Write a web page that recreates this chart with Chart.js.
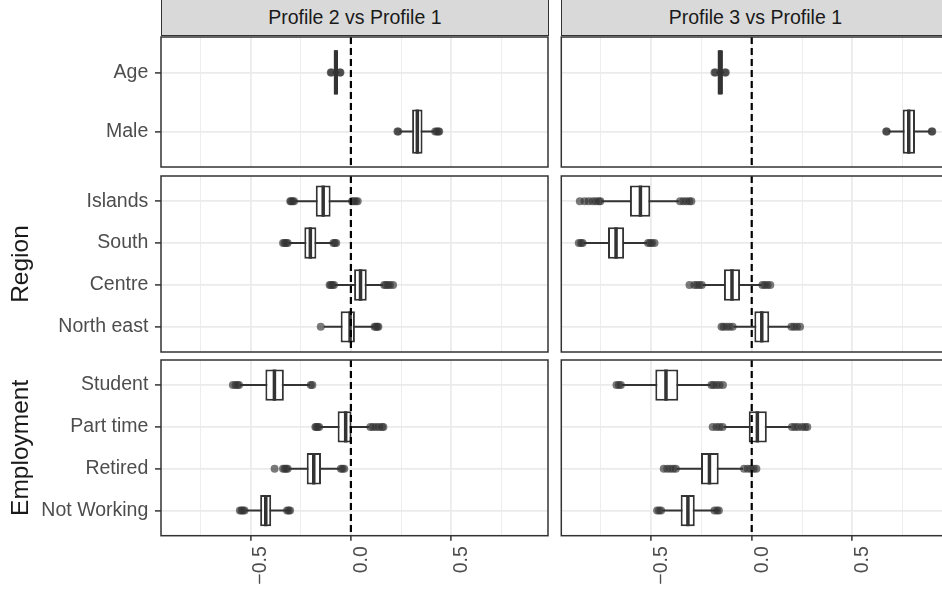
<!DOCTYPE html>
<html>
<head>
<meta charset="utf-8">
<script src="https://cdn.jsdelivr.net/npm/chart.js@4.4.1/dist/chart.umd.min.js"></script>
<style>
  html, body { margin: 0; padding: 0; background: #fff; overflow: hidden; }
  #wrap { position: relative; width: 942px; height: 592px; overflow: hidden; }
  #wrap canvas { position: absolute; }
  .strip { position: absolute; top: -2px; height: 38px; box-sizing: border-box; border: 1.3px solid #333;
    background: #d9d9d9; color: #1a1a1a; font: 19.5px "Liberation Sans", Arial, sans-serif;
    display: flex; align-items: center; justify-content: center; padding-top: 1px; }
</style>
</head>
<body>
<div id="wrap"></div>
<script>
// facets and the terms in each row group
const facets = ['Profile 2 vs Profile 1', 'Profile 3 vs Profile 1']
const groupTitles = ['', 'Region', 'Employment']
const groupTerms = [
  ['Age', 'Male'],
  ['Islands', 'South', 'Centre', 'North east'],
  ['Student', 'Part time', 'Retired', 'Not Working']
]
const xTicks = [-0.75, -0.5, -0.25, 0, 0.25, 0.5, 0.75]
const xTickLabels = ['', '\u22120.5', '', '0.0', '', '0.5', '']

// boxplot stats, one entry per term (Age .. Not Working)
const p2Low    = [-0.092, 0.242, -0.278, -0.310, -0.080, -0.135, -0.553, -0.155, -0.310, -0.525]
const p2Q1     = [-0.086, 0.305, -0.175, -0.232,  0.016, -0.051, -0.426, -0.066, -0.220, -0.452]
const p2Median = [-0.075, 0.331, -0.138, -0.202,  0.048, -0.004, -0.381, -0.026, -0.185, -0.424]
const p2Q3     = [-0.064, 0.357, -0.101, -0.172,  0.079,  0.020, -0.334,  0.003, -0.149, -0.397]
const p2High   = [-0.058, 0.415,  0.000, -0.090,  0.160,  0.112, -0.205,  0.090, -0.055, -0.300]
const p2Outliers = [
  [-0.097, -0.100, -0.055, -0.052],
  [0.232, 0.236, 0.420, 0.428, 0.436, 0.440],
  [-0.283, -0.290, -0.298, -0.302, 0.006, 0.015, 0.025, 0.034],
  [-0.315, -0.322, -0.330, -0.338, -0.087, -0.080, -0.073],
  [-0.084, -0.092, -0.100, -0.106, 0.166, 0.175, 0.185, 0.195, 0.210],
  [-0.150, 0.118, 0.125, 0.132, 0.137],
  [-0.557, -0.565, -0.575, -0.588, -0.200, -0.192],
  [-0.158, -0.165, -0.172, -0.177, 0.097, 0.110, 0.125, 0.140, 0.155, 0.162],
  [-0.315, -0.322, -0.330, -0.338, -0.380, -0.050, -0.042, -0.033],
  [-0.530, -0.538, -0.545, -0.553, -0.303, -0.310, -0.318]
]

const p3Low    = [-0.176, 0.680, -0.748, -0.835, -0.243, -0.090, -0.645, -0.140, -0.372, -0.445]
const p3Q1     = [-0.170, 0.750, -0.605, -0.714, -0.138,  0.013, -0.479, -0.015, -0.252, -0.353]
const p3Median = [-0.157, 0.780, -0.553, -0.674, -0.098,  0.050, -0.426,  0.028, -0.210, -0.317]
const p3Q3     = [-0.143, 0.811, -0.504, -0.634, -0.058,  0.087, -0.365,  0.075, -0.164, -0.283]
const p3High   = [-0.137, 0.888, -0.362, -0.520,  0.048,  0.190, -0.205,  0.195, -0.043, -0.160]
const p3Outliers = [
  [-0.180, -0.185, -0.133, -0.129],
  [0.671, 0.668, 0.894, 0.897],
  [-0.752, -0.760, -0.775, -0.790, -0.810, -0.830, -0.854, -0.356, -0.340, -0.325, -0.310, -0.300],
  [-0.840, -0.848, -0.859, -0.515, -0.505, -0.495, -0.483],
  [-0.248, -0.260, -0.272, -0.285, -0.309, 0.053, 0.065, 0.078, 0.092],
  [-0.095, -0.110, -0.125, -0.140, -0.150, 0.197, 0.210, 0.225, 0.240],
  [-0.650, -0.660, -0.672, -0.200, -0.190, -0.175, -0.160, -0.143],
  [-0.145, -0.160, -0.175, -0.194, 0.200, 0.215, 0.230, 0.250, 0.265, 0.276],
  [-0.377, -0.390, -0.405, -0.420, -0.437, -0.038, -0.020, -0.005, 0.010, 0.023],
  [-0.450, -0.460, -0.470, -0.163, -0.172, -0.185]
]

const stats = [
  { low: p2Low, q1: p2Q1, median: p2Median, q3: p2Q3, high: p2High, outliers: p2Outliers },
  { low: p3Low, q1: p3Q1, median: p3Median, q3: p3Q3, high: p3High, outliers: p3Outliers }
]

const X_MIN = -0.946, X_MAX = 0.982
const BOX = 0.75
const INK = '#333333'
const FONT = '"Liberation Sans", Arial, sans-serif'

// page layout of the facet grid
const cols = [
  { canvasLeft: 0,   width: 552, areaLeft: 161,   areaRight: 548.7 },
  { canvasLeft: 557, width: 397, areaLeft: 561.3, areaRight: 949.4 }
]
const rows = [
  { canvasTop: 33,  height: 138, areaTop: 36,    areaBottom: 168 },
  { canvasTop: 172, height: 184, areaTop: 175.7, areaBottom: 352.3 },
  { canvasTop: 356, height: 236, areaTop: 359.3, areaBottom: 535.7 }
]

const panelBorder = {
  id: 'panelBorder',
  afterDraw(chart) {
    const a = chart.chartArea, ctx = chart.ctx
    ctx.save()
    ctx.strokeStyle = INK
    ctx.lineWidth = 1.5
    ctx.strokeRect(a.left, a.top, a.right - a.left, a.bottom - a.top)
    ctx.restore()
  }
}

const wrap = document.getElementById('wrap')

function makePanel(ci, ri, start) {
  const c = cols[ci], r = rows[ri], s = stats[ci]
  const terms = groupTerms[ri]
  const n = terms.length
  const isLeft = ci === 0
  const isBottom = ri === rows.length - 1

  const canvas = document.createElement('canvas')
  canvas.width = c.width
  canvas.height = r.height
  canvas.style.left = c.canvasLeft + 'px'
  canvas.style.top = r.canvasTop + 'px'
  wrap.appendChild(canvas)

  const boxes = [], whiskers = [], medians = [], outliers = []
  terms.forEach((t, i) => {
    const k = start + i
    boxes.push({ y: i, x: [s.q1[k], s.q3[k]] })
    whiskers.push({ x: s.low[k], y: i }, { x: s.high[k], y: i }, { x: null, y: i })
    medians.push({ x: s.median[k], y: i - BOX / 2 }, { x: s.median[k], y: i + BOX / 2 }, { x: null, y: i })
    s.outliers[k].forEach(v => outliers.push({ x: v, y: i }))
  })
  const zeroLine = [{ x: 0, y: -0.6 }, { x: 0, y: n - 0.4 }]

  const bottomSpace = r.canvasTop + r.height - r.areaBottom
  const isMajor = i => xTickLabels[i] !== ''

  new Chart(canvas, {
    type: 'bar',
    data: {
      datasets: [
        { type: 'line', data: zeroLine, borderColor: '#000', borderWidth: 2.2, borderDash: [7, 4], pointRadius: 0, order: 0 },
        { type: 'scatter', data: outliers, pointRadius: 4, backgroundColor: 'rgba(51,51,51,0.65)', borderWidth: 0, order: 1 },
        { type: 'line', data: medians, borderColor: INK, borderWidth: 3.5, pointRadius: 0, borderCapStyle: 'butt', order: 2 },
        { type: 'bar', data: boxes, backgroundColor: '#fff', borderColor: INK, borderWidth: 2, borderSkipped: false,
          categoryPercentage: 1, barPercentage: BOX, order: 3 },
        { type: 'line', data: whiskers, borderColor: INK, borderWidth: 2, pointRadius: 0, order: 4 }
      ]
    },
    options: {
      indexAxis: 'y',
      responsive: false,
      animation: false,
      events: [],
      layout: { padding: {
        left: 0,
        right: c.canvasLeft + c.width - c.areaRight,
        top: r.areaTop - r.canvasTop,
        bottom: isBottom ? 0 : bottomSpace
      } },
      plugins: { legend: { display: false }, tooltip: { enabled: false } },
      scales: {
        x: {
          type: 'linear', position: 'bottom', min: X_MIN, max: X_MAX, offset: false,
          afterBuildTicks: a => { a.ticks = xTicks.map(v => ({ value: v })) },
          afterFit: a => {
            a.height = isBottom ? bottomSpace : 0
            a.paddingLeft = 0; a.paddingRight = 0
          },
          border: { display: false },
          grid: {
            offset: false,
            color: '#ebebeb',
            lineWidth: ctx => isMajor(ctx.index) ? 1.8 : 0.9,
            drawTicks: isBottom, tickLength: 5, tickWidth: 1.5,
            tickColor: ctx => isMajor(ctx.index) ? INK : 'rgba(0,0,0,0)'
          },
          ticks: {
            display: isBottom, autoSkip: false, minRotation: 90, maxRotation: 90,
            padding: 5.5, labelOffset: 10.5, color: '#4d4d4d',
            font: { family: FONT, size: 19.5 },
            callback: (v, i) => xTickLabels[i]
          }
        },
        y: {
          type: 'linear', reverse: true, min: -0.6, max: n - 0.4, offset: false,
          afterBuildTicks: a => { a.ticks = terms.map((t, i) => ({ value: i })) },
          afterFit: a => {
            a.width = c.areaLeft - c.canvasLeft
            a.paddingTop = 0; a.paddingBottom = 0
          },
          border: { display: false },
          grid: { offset: false, color: '#ebebeb', lineWidth: 1.8, drawTicks: isLeft, tickLength: 6, tickWidth: 1.5, tickColor: INK },
          ticks: {
            display: isLeft, autoSkip: false, padding: 6.7, color: '#4d4d4d',
            font: { family: FONT, size: 19.5 },
            callback: (v, i) => terms[i]
          },
          title: {
            display: isLeft && groupTitles[ri] !== '',
            text: groupTitles[ri], color: '#1a1a1a',
            font: { family: FONT, size: 24.5 },
            padding: { top: 7, bottom: 0 }
          }
        }
      }
    },
    plugins: [panelBorder]
  })
}

let start = 0
groupTerms.forEach((terms, ri) => {
  cols.forEach((c, ci) => makePanel(ci, ri, start))
  start += terms.length
})

// facet strips on top
facets.forEach((label, ci) => {
  const c = cols[ci]
  const el = document.createElement('div')
  el.className = 'strip'
  el.style.left = c.areaLeft + 'px'
  el.style.width = (c.areaRight - c.areaLeft) + 'px'
  el.textContent = label
  wrap.appendChild(el)
})
</script>
</body>
</html>
